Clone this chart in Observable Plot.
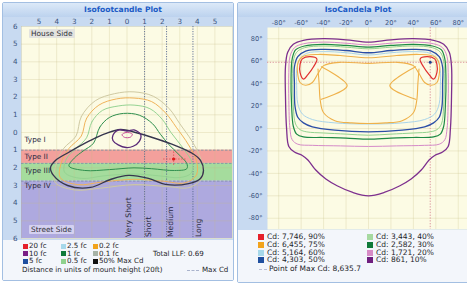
<!DOCTYPE html>
<html><head><meta charset="utf-8">
<script src="https://cdn.jsdelivr.net/npm/d3@7"></script>
<script src="https://cdn.jsdelivr.net/npm/@observablehq/plot@0.6"></script>
<style>
html,body{margin:0;padding:0;background:#fff;overflow:hidden;width:467px;height:289px;}
body{position:relative;font-family:"DejaVu Sans",sans-serif;}
.abs{position:absolute;}
.panel{background:#c8daf1;border:1px solid #a3bfe2;border-radius:2px;box-sizing:border-box;}
.tbar{background:linear-gradient(#dce9f8,#bcd2ee);}
.ttl{color:#1d5cc6;font-weight:bold;font-size:7.6px;text-align:center;line-height:14px;height:14px;}
.leg{background:#f3f6fb;}
.li{position:absolute;font-size:7.1px;line-height:8px;height:8px;color:#1e1e2a;white-space:nowrap;}
.sw{position:absolute;}
.tag{position:absolute;font-size:7.4px;line-height:9px;padding:0 2px;color:#303038;white-space:nowrap;}
</style></head><body>
<script>
// ---------- DATA ----------
// Isofootcandle plot (units of mounting height; y positive = street side)
const fcXTicks = [-5,-4,-3,-2,-1,0,1,2,3,4,5];
const fcYTicks = [-6,-5,-4,-3,-2,-1,0,1,2,3,4,5,6];
const fcGrid = [-6,-5,-4,-3,-2,-1,0,1,2,3,4,5,6];
const typeNames = ["Type I","Type II","Type III","Type IV"];
const typeLabelY = [0.4,1.35,2.15,3.0];
const bandNames = ["Type II","Type III","Type IV"];
const bandFrom = [1.0,1.75,2.75];
const bandTo = [1.75,2.75,6.0];
const bandEdges = [1.0,1.75,2.75];
const reachNames = ["Very Short","Short","Medium","Long"];
const reachLabelX = [0.2,1.35,2.6,4.2];
const reachEdges = [1.0,2.25,3.75];
const fcMaxCd = [2.65,1.5];
const fcMaxCdCross = {x1:2.08, x2:3.45, y1:1.1, y2:1.9};

const fc01 = [[-2.9,0.2],[-2.6,-0.9],[-1.8,-1.8],[-0.7,-2.2],[0.4,-2.3],[1.5,-2.05],[2.4,-1.35],[3.0,-0.5],[3.7,0.5],[4.2,1.5],[4.3,2.5],[3.6,3.1],[2.2,3.05],[0.4,2.95],[-1.5,3.15],[-3.0,3.25],[-4.1,2.8],[-4.0,1.7],[-3.6,0.9]];
const fc02 = [[-2.6,0.2],[-2.3,-0.8],[-1.6,-1.55],[-0.6,-1.9],[0.4,-1.95],[1.4,-1.75],[2.2,-1.1],[2.8,-0.3],[3.5,0.7],[3.95,1.6],[3.95,2.4],[3.3,2.85],[2.0,2.75],[0.4,2.65],[-1.4,2.8],[-2.8,2.95],[-3.8,2.55],[-3.7,1.6],[-3.3,0.9]];
const fc05 = [[-2.3,0.3],[-2.0,-0.6],[-1.4,-1.25],[-0.5,-1.5],[0.4,-1.55],[1.3,-1.35],[2.0,-0.75],[2.5,0],[3.2,0.9],[3.7,1.7],[3.65,2.3],[3.0,2.55],[1.8,2.45],[0.4,2.35],[-1.3,2.45],[-2.6,2.6],[-3.55,2.25],[-3.45,1.5],[-2.9,0.9]];
const fc1 = [[-1.9,0.6],[-1.55,-0.3],[-1.0,-0.85],[-0.2,-1.08],[0.7,-0.98],[1.45,-0.5],[1.9,0.1],[2.4,0.7],[2.9,1.2],[3.4,1.75],[3.4,2.05],[2.7,2.15],[1.4,2.05],[0.4,2.0],[-1.0,2.1],[-2.4,2.15],[-3.3,1.9],[-3.0,1.45],[-2.5,1.05]];
const fc10 = [[-0.8,0.15],[-0.45,-0.15],[0,-0.08],[0.4,-0.15],[0.78,0.12],[0.7,0.5],[0.35,0.78],[-0.05,0.85],[-0.5,0.7],[-0.8,0.45]];
const fc20 = [[-0.28,0.12],[-0.05,0],[0.3,0.08],[0.2,0.26],[-0.15,0.27]];
const fcHalfMax = [[-0.37,-0.17],[0.48,0],[1.62,0.34],[2.76,0.74],[3.73,1.19],[4.18,1.58],[4.35,2.15],[4.18,2.6],[3.5,2.89],[2.19,2.94],[1.22,2.6],[0.09,2.43],[-0.94,2.66],[-2.08,3.11],[-3.38,3.0],[-4.18,2.43],[-4.35,1.98],[-4.07,1.58],[-3.33,1.13],[-2.08,0.45],[-1.22,0.06]];

const fcLegendNames = ["20 fc","10 fc","5 fc","2.5 fc","1 fc","0.5 fc","0.2 fc","0.1 fc","50% Max Cd"];
const fcLegendColors = ["#e5202a","#7a1f86","#1f4f9f","#a6d8ea","#0f7a3a","#8fd18d","#f2a31c","#a7b3a7","#111111"];
const llfText = "Total LLF: 0.69";
const distText = "Distance in units of mount height (20ft)";
const maxCdText = "Max Cd";

// IsoCandela plot (degrees)
const cdTicks = [-80,-60,-40,-20,0,20,40,60,80];
const cdMax = [55,59];
const cd10 = [[0,77],[-20,79],[-40,80],[-58,78.5],[-67,75],[-72,68],[-74,55],[-74,30],[-73,0],[-71,-16],[-66,-21],[-59,-24],[-54,-28],[-47,-37],[-38,-45],[-28,-51],[-14,-57],[0,-60],[14,-57],[28,-51],[38,-45],[47,-37],[54,-28],[59,-24],[66,-21],[71,-16],[73,0],[74,30],[74,55],[72,68],[67,75],[58,78.5],[40,80],[20,79]];
const cd20 = [[0,74.5],[-20,76],[-40,77],[-58,75.5],[-66,72],[-70,64],[-71,50],[-71,25],[-70,0],[-68,-10],[-63,-14],[-50,-15],[-25,-15.5],[0,-16],[25,-15.5],[50,-15],[63,-14],[68,-10],[70,0],[71,25],[71,50],[70,64],[66,72],[58,75.5],[40,77],[20,76]];
const cd30 = [[0,72.5],[-20,74],[-40,75],[-57,73.5],[-65,70],[-68,62],[-69,45],[-68.5,20],[-67,2],[-64,-5],[-58,-7.5],[-40,-8],[-20,-8.5],[0,-9.5],[20,-8.5],[40,-8],[58,-7.5],[64,-5],[67,2],[68.5,20],[69,45],[68,62],[65,70],[57,73.5],[40,75],[20,74]];
const cd40 = [[0,71],[-20,72.5],[-40,73.5],[-57,72],[-64,68],[-67,60],[-67.5,45],[-67,20],[-65,4],[-61,-1],[-55,-3],[-40,-4],[-20,-5],[0,-6],[20,-5],[40,-4],[55,-3],[61,-1],[65,4],[67,20],[67.5,45],[67,60],[64,68],[57,72],[40,73.5],[20,72.5]];
const cd50 = [[0,67.5],[-20,69.5],[-40,70.5],[-56,69],[-63,64],[-66,55],[-66,40],[-65.5,20],[-63,10],[-58,5],[-50,1.5],[-30,-1.5],[0,-3],[30,-1.5],[50,1.5],[58,5],[63,10],[65.5,20],[66,40],[66,55],[63,64],[56,69],[40,70.5],[20,69.5]];
const cd60 = [[0,65.5],[-20,67.5],[-40,68.5],[-55,67],[-61,62],[-64,52],[-64,38],[-63,22],[-59,13],[-50,8],[-30,5],[0,4],[30,5],[50,8],[59,13],[63,22],[64,38],[64,52],[61,62],[55,67],[40,68.5],[20,67.5]];
const cd75Top = [[-63,58],[-59,64],[-45,66],[-25,65],[0,63],[25,65],[45,66],[59,64],[63,58],[63,48],[61,41],[56,38.5],[50,41],[45,49],[40,56],[25,59],[0,58],[-25,59],[-40,56],[-45,49],[-50,41],[-56,38.5],[-61,41],[-63,48]];
const cd75Bowl = [[-45,53],[-44,40],[-43,25],[-40,14],[-30,7],[-15,5],[0,4.5],[15,5],[30,7],[40,14],[43,25],[44,40],[45,53]];
const cd75WedgeL = [[-42,55],[-19,38],[-42,26]];
const cd75WedgeR = [[42,55],[19,38],[42,26]];
const cd90L = [[-59,62],[-52,64],[-46,62],[-49,55],[-54,48],[-58,44],[-61,50],[-61,57]];
const cd90R = [[59,62],[52,64],[46,62],[49,55],[54,48],[58,44],[61,50],[61,57]];

const cdLegendNames = ["Cd: 7,746, 90%","Cd: 6,455, 75%","Cd: 5,164, 60%","Cd: 4,303, 50%","Cd: 3,443, 40%","Cd: 2,582, 30%","Cd: 1,721, 20%","Cd: 861, 10%"];
const cdLegendColors = ["#e5202a","#f2a31c","#a6d8ea","#1f4f9f","#a6d9a0","#0f7a3a","#d78bc6","#6f1f7f"];
const cdMaxText = "Point of Max Cd: 8,635.7";

// ---------- STYLES ----------
const bandFill = ["#f08a8a","#8fd48b","#9a95dd"];
const fcStyles = [
  {pts: fc01, stroke:"#cfc9a2", w:1},
  {pts: fc02, stroke:"#f0b35a", w:1},
  {pts: fc05, stroke:"#95d392", w:1},
  {pts: fc1, stroke:"#2f8f4e", w:1},
  {pts: fcHalfMax, stroke:"#36364e", w:1.35},
  {pts: fc10, stroke:"#5a2a78", w:1.3},
  {pts: fc20, stroke:"#c8509a", w:1}
];
const cdStyles = [
  {pts: cd10, stroke:"#7d2f8e", w:1.3, c:"catmull-rom-closed"},
  {pts: cd20, stroke:"#d58ac8", w:1, c:"catmull-rom-closed"},
  {pts: cd30, stroke:"#1e8a45", w:1.2, c:"catmull-rom-closed"},
  {pts: cd40, stroke:"#93d38f", w:1, c:"catmull-rom-closed"},
  {pts: cd50, stroke:"#2b4ea6", w:1.3, c:"catmull-rom-closed"},
  {pts: cd60, stroke:"#a9d4ea", w:1, c:"catmull-rom-closed"},
  {pts: cd75Top, stroke:"#efb14a", w:1.1, c:"catmull-rom-closed"},
  {pts: cd75Bowl, stroke:"#efb14a", w:1.1, c:"catmull-rom"},
  {pts: cd75WedgeL, stroke:"#efb14a", w:1.1, c:"catmull-rom"},
  {pts: cd75WedgeR, stroke:"#efb14a", w:1.1, c:"catmull-rom"},
  {pts: cd90L, stroke:"#e0302f", w:1.2, c:"catmull-rom-closed"},
  {pts: cd90R, stroke:"#e0302f", w:1.2, c:"catmull-rom-closed"}
];

// ---------- HELPERS ----------
function div(cls, css, text) {
  const d = document.createElement("div");
  d.className = cls;
  Object.assign(d.style, css);
  if (text != null) d.textContent = text;
  document.body.appendChild(d);
  return d;
}
const px = v => v + "px";

// ---------- LEFT PANEL ----------
div("abs panel", {left:"2px", top:"2px", width:"232px", height:"279px"});
div("abs tbar", {left:"3px", top:"3px", width:"230px", height:"14px"});
div("abs ttl", {left:"3px", top:"3px", width:"240px"}, "Isofootcandle Plot");
div("abs leg", {left:"3px", top:"240px", width:"230px", height:"40px"});

const bands = bandNames.map((n,i)=>({name:n, from:bandFrom[i], to:bandTo[i], fill:bandFill[i]}));
const typeLabels = typeNames.map((n,i)=>({name:n, y:typeLabelY[i]}));
const reachLabels = reachNames.map((n,i)=>({name:n, x:reachLabelX[i]}));

const left = Plot.plot({
  width: 230, height: 222, marginLeft: 18, marginRight: 1, marginTop: 9, marginBottom: 1,
  style: {background:"transparent", overflow:"visible", fontFamily:"DejaVu Sans", color:"#3b5480"},
  x: {domain:[-6,6], label:null},
  y: {domain:[-6,6], reverse:true, label:null},
  marks: [
    Plot.frame({fill:"#fcfbe4", stroke:null}),
    Plot.rect(bands, {y1:"from", y2:"to", fill:"fill", fillOpacity:0.8}),
    Plot.ruleX(fcGrid, {stroke:"#c9bf86", strokeOpacity:0.35, strokeWidth:0.8}),
    Plot.ruleY(fcGrid, {stroke:"#c9bf86", strokeOpacity:0.35, strokeWidth:0.8}),
    Plot.ruleY(bandEdges, {stroke:"#7d8aa6", strokeWidth:0.8, strokeDasharray:"2.5,1.5"}),
    Plot.ruleX(reachEdges, {stroke:"#56688e", strokeWidth:0.9, strokeDasharray:"1.2,1.3"}),
    ...fcStyles.map(s => Plot.line(s.pts, {x:d=>d[0], y:d=>d[1], stroke:s.stroke, strokeWidth:s.w, curve:"catmull-rom-closed"})),
    Plot.ruleY([fcMaxCd], {y:d=>d[1], x1:()=>fcMaxCdCross.x1, x2:()=>fcMaxCdCross.x2, stroke:"#e05050", strokeWidth:0.8, strokeDasharray:"1.5,1.5"}),
    Plot.ruleX([fcMaxCd], {x:d=>d[0], y1:()=>fcMaxCdCross.y1, y2:()=>fcMaxCdCross.y2, stroke:"#e05050", strokeWidth:0.8, strokeDasharray:"1.5,1.5"}),
    Plot.dot([fcMaxCd], {x:d=>d[0], y:d=>d[1], r:1.6, fill:"#e01818", stroke:null}),
    Plot.text(typeLabels, {y:"y", text:"name", frameAnchor:"left", dx:3, textAnchor:"start", fontSize:7.3, fill:"#2a2a44"}),
    Plot.text(reachLabels, {x:"x", text:"name", frameAnchor:"bottom", rotate:-90, textAnchor:"start", dy:-1.5, fontSize:7.6, fill:"#2a2a44"}),
    Plot.axisX({ticks:fcXTicks, anchor:"top", tickSize:0, tickPadding:3, tickFormat:d=>Math.abs(d), fontSize:7.2, label:null}),
    Plot.axisY({ticks:fcYTicks, anchor:"left", tickSize:0, tickPadding:4, tickFormat:d=>Math.abs(d), fontSize:7.2, label:null})
  ]
});
Object.assign(left.style, {position:"absolute", left:"3px", top:"17px"});
document.body.appendChild(left);

div("tag", {left:"29px", top:"29px", background:"rgba(226,226,222,0.95)", borderRadius:"1px"}, "House Side");
div("tag", {left:"29px", top:"225px", background:"rgba(214,211,240,0.95)", borderRadius:"1px"}, "Street Side");

// left legend
const fcColX = [23,61,93];
const fcRowY = [246,253.5,261];
fcLegendNames.forEach((n,i)=>{
  const c = Math.floor(i/3), r = i%3;
  div("sw", {left:px(fcColX[c]), top:px(fcRowY[r]-2.5), width:"5px", height:"5px", background:fcLegendColors[i]});
  div("li", {left:px(fcColX[c]+6), top:px(fcRowY[r]-4)}, n);
});
div("li", {left:"153px", top:px(253.5-4)}, llfText);
div("li", {left:"22px", top:px(270-4)}, distText);
div("li", {left:"187px", top:px(270-4), width:"12px", borderTop:"1px dashed #a9b3cc", height:"0px", marginTop:"4px"});
div("li", {left:"202px", top:px(270-4)}, maxCdText);

// ---------- RIGHT PANEL ----------
div("abs panel", {left:"237px", top:"2px", width:"240px", height:"281px"});
div("abs tbar", {left:"238px", top:"3px", width:"238px", height:"14px"});
div("abs ttl", {left:"238px", top:"3px", width:"240px"}, "IsoCandela Plot");
div("abs leg", {left:"238px", top:"230px", width:"238px", height:"52px"});

const right = Plot.plot({
  width: 231, height: 213, marginLeft: 29, marginRight: 0, marginTop: 10, marginBottom: 1,
  style: {background:"transparent", overflow:"visible", fontFamily:"DejaVu Sans", color:"#3b5480"},
  x: {domain:[-90,90], label:null},
  y: {domain:[-90,90], label:null},
  marks: [
    Plot.frame({fill:"#fcfbe4", stroke:null}),
    Plot.ruleX(cdTicks, {stroke:"#c9bf86", strokeOpacity:0.35, strokeWidth:0.8}),
    Plot.ruleY(cdTicks, {stroke:"#c9bf86", strokeOpacity:0.35, strokeWidth:0.8}),
    Plot.ruleX([cdMax], {x:d=>d[0], stroke:"#d88a96", strokeWidth:0.9, strokeDasharray:"1.3,1.5"}),
    Plot.ruleY([cdMax], {y:d=>d[1], stroke:"#d88a96", strokeWidth:0.9, strokeDasharray:"1.3,1.5"}),
    ...cdStyles.map(s => Plot.line(s.pts, {x:d=>d[0], y:d=>d[1], stroke:s.stroke, strokeWidth:s.w, curve:s.c})),
    Plot.dot([cdMax], {x:d=>d[0], y:d=>d[1], r:1.5, fill:"#1f3f8f", stroke:null}),
    Plot.axisX({ticks:cdTicks, anchor:"top", tickSize:0, tickPadding:3, tickFormat:d=>`${d}°`, fontSize:6.6, label:null}),
    Plot.axisY({ticks:cdTicks, anchor:"left", tickSize:0, tickPadding:5, tickFormat:d=>`${d}°`, fontSize:6.6, label:null})
  ]
});
Object.assign(right.style, {position:"absolute", left:"238px", top:"17px"});
document.body.appendChild(right);

const cdColX = [258,367];
const cdRowY = [237,245,252.7,260.3];
cdLegendNames.forEach((n,i)=>{
  const c = Math.floor(i/4), r = i%4;
  div("sw", {left:px(cdColX[c]), top:px(cdRowY[r]-3), width:"6px", height:"6px", background:cdLegendColors[i]});
  div("li", {left:px(cdColX[c]+9), top:px(cdRowY[r]-4), fontSize:"7.5px"}, n);
});
div("li", {left:"259px", top:px(269-4), width:"8px", borderTop:"1px dashed #b9bfd8", height:"0px", marginTop:"4px"});
div("li", {left:"269px", top:px(269-4), fontSize:"7.5px"}, cdMaxText);
</script>
</body></html>
